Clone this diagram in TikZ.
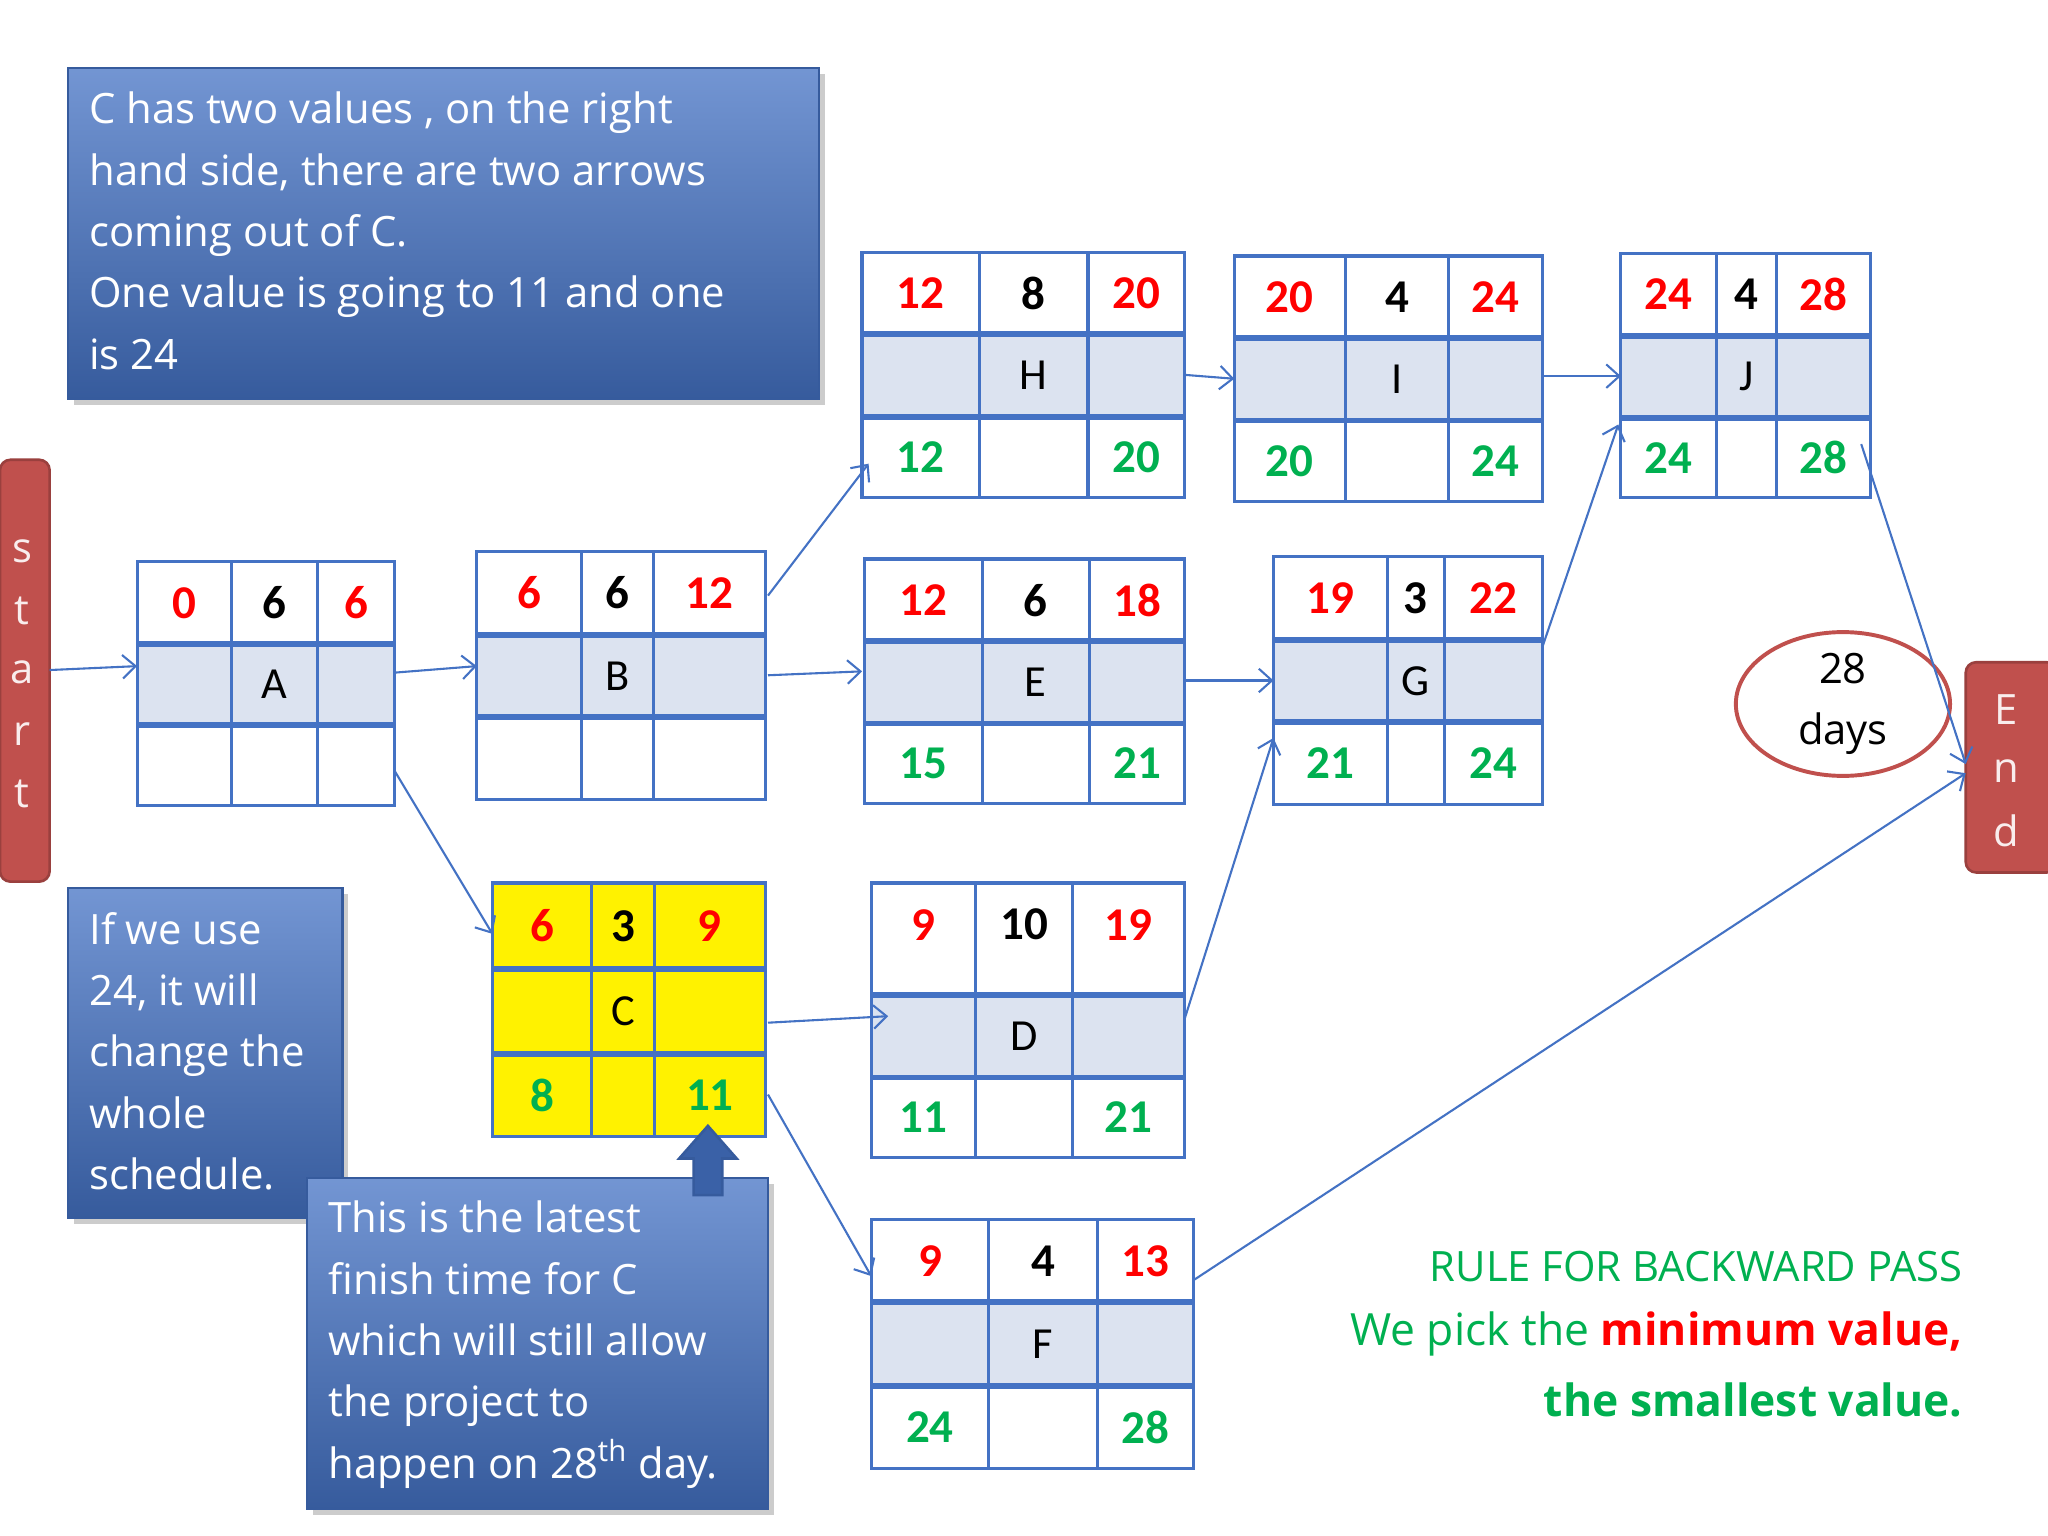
\documentclass[tikz,border=0pt]{standalone}
\usepackage{fontspec}
\setmainfont{Carlito}
\newfontfamily\opensans{Open Sans}
\usetikzlibrary{shadows,arrows.meta,shapes.geometric}
\definecolor{bl}{HTML}{4472C4}
\definecolor{midblue}{HTML}{DCE3F0}
\definecolor{rd}{HTML}{FF0000}
\definecolor{gr}{HTML}{00B050}
\definecolor{barred}{HTML}{C0504D}
\def\gridmid{midblue}
\newcommand\grid[9]{%
 \fill[\gridmid] (#2,#7) rectangle (#5,#8);
 \draw[bl,line width=1.2pt] (#2,#6) rectangle (#5,#9);
 \draw[bl,line width=1.2pt] (#3,#6) -- (#3,#9) (#4,#6) -- (#4,#9);
 \draw[bl,line width=2.2pt] (#2,#7) -- (#5,#7) (#2,#8) -- (#5,#8);
 \coordinate (#1-11) at ({(#2+#3)/2},{(#6+#7)/2});
 \coordinate (#1-12) at ({(#3+#4)/2},{(#6+#7)/2});
 \coordinate (#1-13) at ({(#4+#5)/2},{(#6+#7)/2});
 \coordinate (#1-22) at ({(#3+#4)/2},{(#7+#8)/2});
 \coordinate (#1-31) at ({(#2+#3)/2},{(#8+#9)/2});
 \coordinate (#1-33) at ({(#4+#5)/2},{(#8+#9)/2});
}
\newcommand\vals[9]{% name es d ef label ls lf col-ls col-lf
 \node[num,rd] at (#1-11) {#2};
 \node[num] at (#1-12) {#3};
 \node[num,rd] at (#1-13) {#4};
 \node[lab] at (#1-22) {#5};
 \node[num,#8] at (#1-31) {#6};
 \node[num,#9] at (#1-33) {#7};
}
\tikzset{
 num/.style={font=\fontsize{18}{20}\selectfont\bfseries,inner sep=0},
 lab/.style={font=\fontsize{17}{20}\selectfont,inner sep=0},
 conn/.style={bl,line width=0.8pt,-{Straight Barb[length=5pt,width=9pt]}},
 tbox/.style={draw=bl!80!black,line width=1pt,top color=bl!75!white,bottom color=bl!80!black,drop shadow={opacity=0.4}},
 ttext/.style={white,font=\opensans\fontsize{16}{23.5}\selectfont,align=left,anchor=north west,inner sep=0},
 bar/.style={fill=barred,draw=barred!80!black,line width=1pt,rounded corners=4pt},
 barl/.style={white!90!barred,font=\opensans\fontsize{16}{20}\selectfont,inner sep=0}
}
\begin{document}
\begin{tikzpicture}[x=0.5pt,y=-0.5pt]
\useasboundingbox (0,0) rectangle (1568,1176);
\fill[white] (0,0) rectangle (1568,1176);
% text boxes
\path[tbox] (52,52) rectangle (627,305);
\node[ttext] (t1) at (68,70) {C has two values , on the right\\hand side, there are two arrows\\coming out of C.\\One value is going to 11 and one\\is 24};
\path[tbox] (52,680) rectangle (262,932);
\node[ttext] (t2) at (68,698) {If we use\\24, it will\\change the\\whole\\schedule.};
\path[tbox] (235,902) rectangle (588,1155);
\node[ttext] (t3) at (251,919) {This is the latest\\finish time for C\\which will still allow\\the project to\\happen on 28\textsuperscript{th} day.};
% boxes
\grid{A}{105}{177}{243}{302}{430}{493}{555}{617}
\grid{B}{365}{445}{500}{586}{422}{486}{549}{612}
\grid{H}{660}{750}{833}{907}{193}{256}{319}{381}
\grid{I}{945}{1030}{1109}{1181}{196}{259}{322}{384}
\grid{J}{1241}{1314}{1360}{1432}{194}{257}{320}{381}
\grid{E}{662}{752}{834}{907}{428}{491}{554}{615}
\grid{G}{975}{1062}{1106}{1181}{426}{490}{553}{616}
\grid{D}{667}{747}{821}{907}{676}{762}{825}{886}
\grid{F}{667}{757}{840}{914}{934}{997}{1061}{1124}
\fill[yellow] (377,676) rectangle (586,870);
\def\gridmid{yellow}
\grid{C}{377}{453}{501}{586}{676}{742}{807}{870}
\coordinate (D-11) at (707,708);
\coordinate (D-12) at (784,708);
\coordinate (D-13) at (864,708);
\vals{A}{0}{6}{6}{A}{}{}{gr}{gr}
\vals{B}{6}{6}{12}{B}{}{}{gr}{gr}
\vals{H}{12}{8}{20}{H}{12}{20}{gr}{gr}
\vals{I}{20}{4}{24}{I}{20}{24}{gr}{gr}
\vals{J}{24}{4}{28}{J}{24}{28}{gr}{gr}
\vals{E}{12}{6}{18}{E}{15}{21}{gr}{gr}
\vals{G}{19}{3}{22}{G}{21}{24}{gr}{gr}
\vals{C}{6}{3}{9}{C}{8}{11}{gr}{gr}
\vals{D}{9}{10}{19}{D}{11}{21}{gr}{gr}
\vals{F}{9}{4}{13}{F}{24}{28}{gr}{gr}
% up arrow
\draw[bl!80!black,fill=bl!85!black,line width=1pt] (531,915) -- (531,887) -- (520,887) -- (542,862) -- (564,887) -- (553,887) -- (553,915) -- cycle;
% bars
\path[bar] (0,352) rectangle (38,675);
\coordinate (S) at (38,513);
\foreach \l/\y in {s/422,t/468,a/515,r/562,t/608} \node[barl] at (17,\y) {\l};
\path[bar] (1505,507) rectangle (1575,668);
\foreach \l/\y in {E/543,n/590,d/636} \node[barl] at (1536,\y) {\l};
\coordinate (Ein) at (1505,585);
\coordinate (Ein2) at (1505,592);
% ellipse
\node[draw=barred,line width=1.5pt,fill=white,ellipse,minimum width=82pt,minimum height=52pt,inner sep=0,align=center,font=\opensans\fontsize{16}{23.5}\selectfont] (days) at (1411,539) {28\\days};
% connectors
\draw[conn] (S) -- (105,510);
\draw[conn] (302,515) -- (365,510);
\draw[conn] (302,590) -- (377,715);
\draw[conn] (588,517) -- (660,514);
\draw[conn] (588,456) -- (665,355);
\draw[conn] (907,287) -- (945,290);
\draw[conn] (1181,288) -- (1241,288);
\draw[conn] (907,521) -- (975,521);
\draw[conn] (1181,495) -- (1239,325);
\draw[conn] (1425,340) -- (Ein);
\draw[conn] (588,783) -- (680,778);
\draw[conn] (588,838) -- (667,977);
\draw[conn] (907,780) -- (975,565);
\draw[conn] (914,980) -- (Ein2);
% rule text
\node[gr,font=\opensans\fontsize{16}{20}\selectfont,anchor=east,inner sep=0] (r1) at (1503,970) {RULE FOR BACKWARD PASS};
\node[gr,font=\opensans\fontsize{17}{20}\selectfont,anchor=east,inner sep=0] (r2) at (1503,1021) {We pick the \textcolor{rd}{\bfseries minimum value,}};
\node[gr,font=\opensans\fontsize{17}{20}\selectfont\bfseries,anchor=east,inner sep=0] (r3) at (1503,1072) {the smallest value.};
\end{tikzpicture}
\end{document}
